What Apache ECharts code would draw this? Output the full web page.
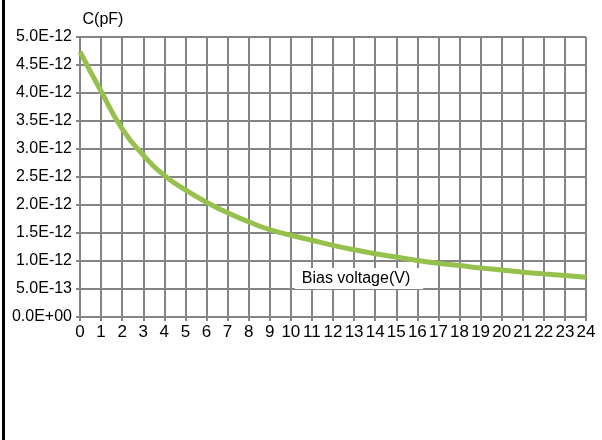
<!DOCTYPE html>
<html>
<head>
<meta charset="utf-8">
<script src="https://cdn.jsdelivr.net/npm/echarts@6/dist/echarts.min.js"></script>
<style>
  html, body { margin: 0; padding: 0; background: #fff; }
  #chart { width: 602px; height: 440px; }
</style>
</head>
<body>
<div id="chart"></div>
<script>
// bias voltage (V)
const voltages = [0, 1, 2, 3, 4, 5, 6, 7, 8, 9, 10, 11, 12, 13, 14, 15, 16, 17, 18, 19, 20, 21, 22, 23, 24]
// capacitance, in units of 1E-12
const capacitance = [4.74, 4.03, 3.36, 2.89, 2.53, 2.27, 2.05, 1.86, 1.70, 1.56, 1.46, 1.37, 1.28, 1.20, 1.13, 1.07, 1.01, 0.96, 0.92, 0.875, 0.84, 0.80, 0.77, 0.74, 0.71]

const font = 'Liberation Sans, Arial, sans-serif'
const gridColor = '#848484'

const chart = echarts.init(document.getElementById('chart'))

function sciLabel(v) {
  if (v === 0) return '0.0E+00'
  return (v * 1e-12).toExponential(1).replace('e', 'E')
}

chart.setOption({
  animation: false,
  grid: {
    left: 80,
    right: 16,
    top: 37,
    bottom: 123,
    containLabel: false
  },
  xAxis: {
    type: 'value',
    min: 0,
    max: 24,
    interval: 1,
    name: '{b|Bias voltage(V)}',
    nameLocation: 'middle',
    nameGap: -49,
    nameTextStyle: {
      padding: [0, 0, 0, 52],
      rich: {
        b: {
          fontFamily: font,
          fontSize: 16,
          color: '#000',
          backgroundColor: '#fff',
          padding: [3, 13, 2, 7]
        }
      }
    },
    axisLine: { lineStyle: { color: gridColor, width: 2 } },
    axisTick: { length: 4, lineStyle: { color: gridColor, width: 2 } },
    axisLabel: { fontFamily: font, fontSize: 17, color: '#000', margin: 7 },
    splitLine: { show: true, lineStyle: { color: gridColor, width: 2 } }
  },
  yAxis: {
    type: 'value',
    min: 0,
    max: 5,
    interval: 0.5,
    name: 'C(pF)',
    nameGap: 9,
    nameTextStyle: {
      fontFamily: font,
      fontSize: 16,
      color: '#000',
      padding: [0, 0, 0, 46]
    },
    axisLine: { show: true, lineStyle: { color: gridColor, width: 2 } },
    axisTick: { show: true, length: 4, lineStyle: { color: gridColor, width: 2 } },
    axisLabel: { fontFamily: font, fontSize: 16, color: '#000', margin: 8, formatter: sciLabel },
    splitLine: { show: true, lineStyle: { color: gridColor, width: 2 } }
  },
  graphic: [{
    type: 'rect',
    shape: { x: 2, y: 0, width: 3, height: 440 },
    style: { fill: '#000' }
  }],
  series: [{
    type: 'line',
    data: voltages.map((v, i) => [v, capacitance[i]]),
    smooth: true,
    showSymbol: false,
    lineStyle: { color: '#95c14c', width: 5 }
  }]
})
</script>
</body>
</html>
